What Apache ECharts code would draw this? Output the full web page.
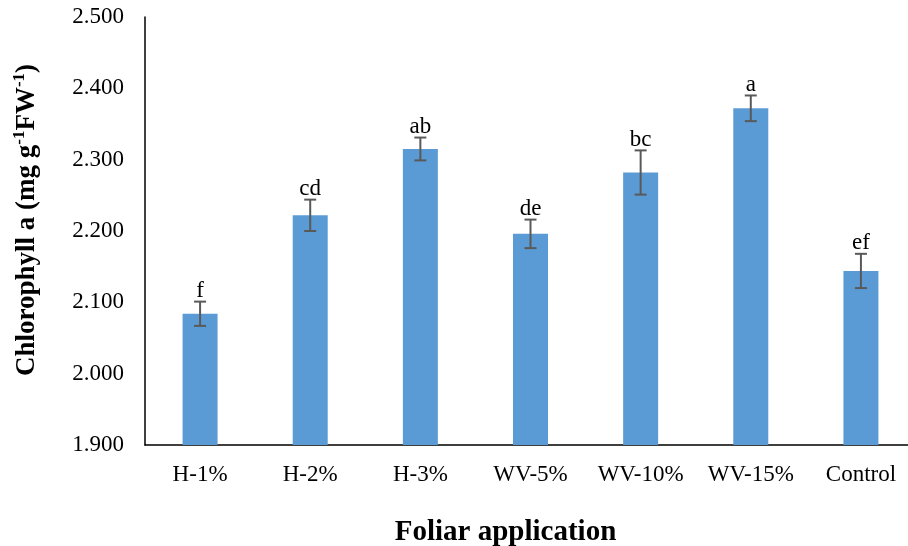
<!DOCTYPE html>
<html><head><meta charset="utf-8">
<script src="https://cdn.jsdelivr.net/npm/echarts@6/dist/echarts.min.js"></script>
<style>html,body{margin:0;padding:0;background:#fff}#c{width:908px;height:546px}</style>
</head><body><div id="c"></div>
<script>
const categories = ['H-1%', 'H-2%', 'H-3%', 'WV-5%', 'WV-10%', 'WV-15%', 'Control'];
const means = [2.084, 2.222, 2.315, 2.196, 2.282, 2.372, 2.144];
const errors = [0.017, 0.022, 0.016, 0.020, 0.031, 0.018, 0.024];
const letters = ['f', 'cd', 'ab', 'de', 'bc', 'a', 'ef'];
const yTicks = [1.9, 2.0, 2.1, 2.2, 2.3, 2.4, 2.5];

const FONT = '"Liberation Serif", "Times New Roman", serif';
const chart = echarts.init(document.getElementById('c'), null, {renderer: 'canvas'});
const errData = categories.map((c, i) => [i, means[i], errors[i], letters[i]]);

chart.setOption({
  animation: false,
  grid: {left: 145, width: 771, top: 17, bottom: 101, containLabel: false, outerBoundsMode: 'none'},
  xAxis: {
    type: 'category',
    data: categories,
    axisLine: {lineStyle: {color: '#000', width: 1.5}},
    axisTick: {show: false},
    axisLabel: {color: '#000', fontFamily: FONT, fontSize: 23, margin: 18, interval: 0},
    name: 'Foliar application',
    nameLocation: 'middle',
    nameGap: 73,
    nameTextStyle: {color: '#000', fontFamily: FONT, fontSize: 29, fontWeight: 'bold', padding: [0, 50, 0, 0]}
  },
  yAxis: {
    type: 'value',
    min: yTicks[0],
    max: yTicks[yTicks.length - 1],
    interval: 0.1,
    splitLine: {show: false},
    axisLine: {show: true, lineStyle: {color: '#000', width: 1.5}},
    axisTick: {show: false},
    axisLabel: {color: '#000', fontFamily: FONT, fontSize: 23, margin: 21,
      formatter: v => v.toFixed(3)},
    name: '{m|Chlorophyll a (mg g}{s|-1}{m|FW}{s|-1}{m|)}',
    nameLocation: 'middle',
    nameRotate: 90,
    nameGap: 104,
    nameTextStyle: {
      color: '#000', fontFamily: FONT, fontWeight: 'bold', padding: [0, 0, 0, 22],
      rich: {
        m: {fontFamily: FONT, fontSize: 27, fontWeight: 'bold', color: '#000', lineHeight: 30, verticalAlign: 'bottom'},
        s: {fontFamily: FONT, fontSize: 17, fontWeight: 'bold', color: '#000', lineHeight: 30, verticalAlign: 'top', padding: [0, 0, 12, 0]}
      }
    }
  },
  series: [
    {
      type: 'bar',
      data: means,
      barWidth: 35,
      itemStyle: {color: '#5B9BD5'},
      z: 2
    },
    {
      type: 'custom',
      data: errData,
      z: 5,
      renderItem: function (params, api) {
        const i = api.value(0), m = api.value(1), e = api.value(2);
        const top = api.coord([i, m + e]);
        const bot = api.coord([i, m - e]);
        const x = top[0], cap = 6;
        const st = {stroke: '#595959', lineWidth: 2};
        return {
          type: 'group',
          children: [
            {type: 'line', shape: {x1: x, y1: top[1], x2: x, y2: bot[1]}, style: st},
            {type: 'line', shape: {x1: x - cap, y1: top[1], x2: x + cap, y2: top[1]}, style: st},
            {type: 'line', shape: {x1: x - cap, y1: bot[1], x2: x + cap, y2: bot[1]}, style: st},
            {type: 'text', x: x, y: top[1] + 1,
              style: {text: letters[params.dataIndex], fill: '#000', font: '23px ' + FONT,
                align: 'center', verticalAlign: 'bottom'}}
          ]
        };
      }
    }
  ]
});
</script></body></html>
